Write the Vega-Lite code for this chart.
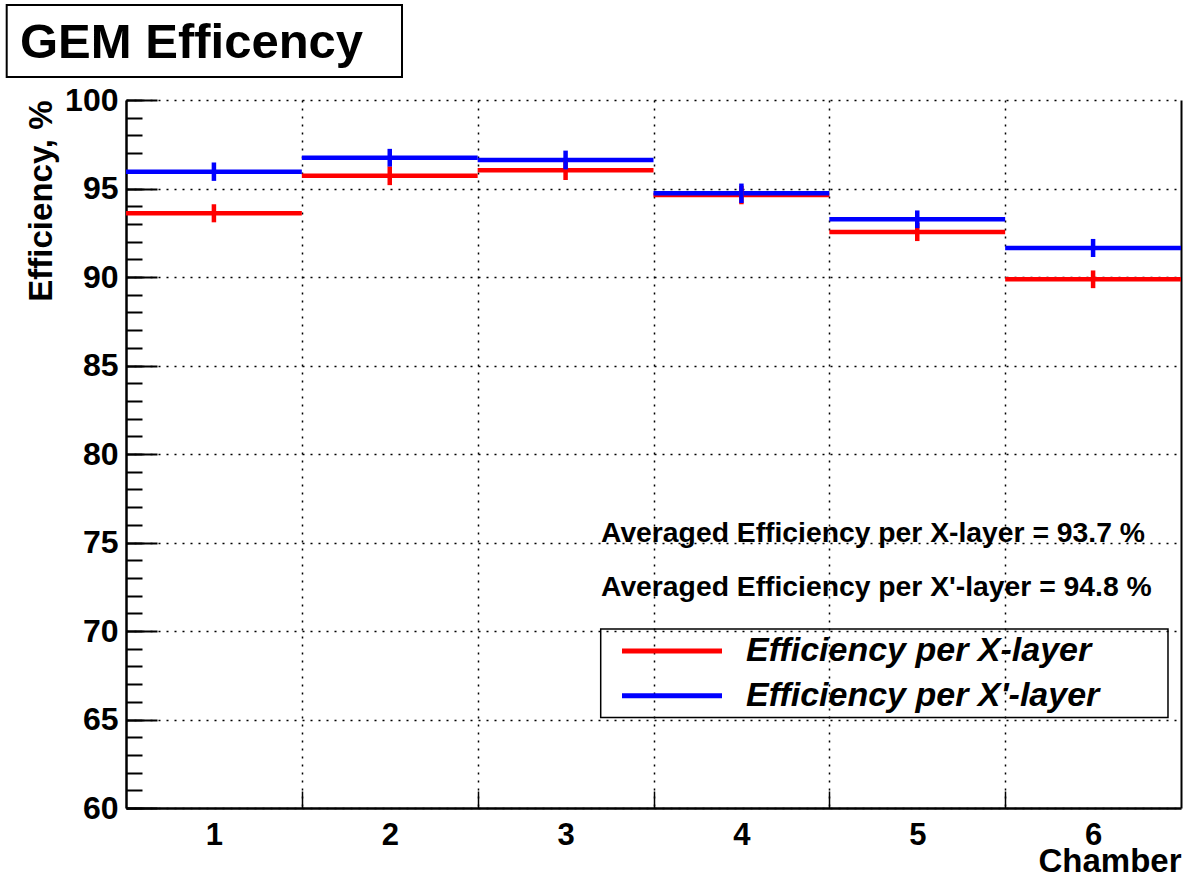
{
  "$schema": "https://vega.github.io/schema/vega-lite/v6.json",
  "width": 1055,
  "height": 708,
  "autosize": {"type": "none"},
  "padding": {"left": 126, "top": 100, "right": 3, "bottom": 74},
  "background": "white",
  "config": {"view": {"stroke": null}, "font": "Liberation Sans"},
  "data": {"values": [
    {"chamber": 1, "layer": "Efficiency per X-layer", "eff": 93.60, "lo": 93.09, "hi": 94.11, "x_lo": 0.5, "x_hi": 1.5},
    {"chamber": 2, "layer": "Efficiency per X-layer", "eff": 95.72, "lo": 95.19, "hi": 96.25, "x_lo": 1.5, "x_hi": 2.5},
    {"chamber": 3, "layer": "Efficiency per X-layer", "eff": 96.03, "lo": 95.48, "hi": 96.58, "x_lo": 2.5, "x_hi": 3.5},
    {"chamber": 4, "layer": "Efficiency per X-layer", "eff": 94.63, "lo": 94.11, "hi": 95.15, "x_lo": 3.5, "x_hi": 4.5},
    {"chamber": 5, "layer": "Efficiency per X-layer", "eff": 92.54, "lo": 92.03, "hi": 93.05, "x_lo": 4.5, "x_hi": 5.5},
    {"chamber": 6, "layer": "Efficiency per X-layer", "eff": 89.87, "lo": 89.37, "hi": 90.37, "x_lo": 5.5, "x_hi": 6.5},
    {"chamber": 1, "layer": "Efficiency per X'-layer", "eff": 95.95, "lo": 95.43, "hi": 96.47, "x_lo": 0.5, "x_hi": 1.5},
    {"chamber": 2, "layer": "Efficiency per X'-layer", "eff": 96.74, "lo": 96.24, "hi": 97.24, "x_lo": 1.5, "x_hi": 2.5},
    {"chamber": 3, "layer": "Efficiency per X'-layer", "eff": 96.61, "lo": 96.08, "hi": 97.14, "x_lo": 2.5, "x_hi": 3.5},
    {"chamber": 4, "layer": "Efficiency per X'-layer", "eff": 94.73, "lo": 94.18, "hi": 95.28, "x_lo": 3.5, "x_hi": 4.5},
    {"chamber": 5, "layer": "Efficiency per X'-layer", "eff": 93.26, "lo": 92.76, "hi": 93.76, "x_lo": 4.5, "x_hi": 5.5},
    {"chamber": 6, "layer": "Efficiency per X'-layer", "eff": 91.64, "lo": 91.13, "hi": 92.15, "x_lo": 5.5, "x_hi": 6.5}
  ]},
  "resolve": {"axis": {"x": "independent", "y": "independent"}},
  "layer": [
    {
      "mark": {"type": "rule", "strokeWidth": 4.5, "strokeCap": "butt"},
      "encoding": {
        "x": {"field": "x_lo", "type": "quantitative",
          "scale": {"domain": [0.5, 6.5], "nice": false, "zero": false},
          "axis": {"orient": "bottom", "values": [1, 2, 3, 4, 5, 6], "format": "d", "ticks": false, "grid": false,
            "domain": true, "domainColor": "black", "domainWidth": 2.5,
            "labelFontSize": 31, "labelFontWeight": "bold", "labelColor": "black", "labelPadding": 12, "labelFlush": false, "labelOverlap": false,
            "title": "Chamber", "titleAnchor": "end", "titleFontSize": 33, "titleFontWeight": "bold", "titleColor": "black", "titlePadding": -5}},
        "x2": {"field": "x_hi"},
        "y": {"field": "eff", "type": "quantitative",
          "scale": {"domain": [60, 100], "nice": false, "zero": false},
          "axis": {"orient": "left", "values": [60, 65, 70, 75, 80, 85, 90, 95, 100], "ticks": false,
            "grid": true, "gridColor": "black", "gridDash": [2, 6], "gridWidth": 1.5, "gridOpacity": 1,
            "domain": true, "domainColor": "black", "domainWidth": 2.5,
            "labelFontSize": 32, "labelFontWeight": "bold", "labelColor": "black", "labelPadding": 8, "labelFlush": false, "labelOverlap": false,
            "title": "Efficiency, %", "titleAnchor": "end", "titleFontSize": 33, "titleFontWeight": "bold", "titleColor": "black", "titlePadding": 6}},
        "color": {"field": "layer", "type": "nominal",
          "scale": {"domain": ["Efficiency per X-layer", "Efficiency per X'-layer"], "range": ["#ff0000", "#0000ff"]},
          "legend": {"orient": "none", "legendX": 529, "legendY": 534, "title": null, "padding": 0,
            "symbolType": "M-5,0H5", "symbolSize": 400, "symbolStrokeWidth": 5, "symbolOpacity": 1,
            "labelFontSize": 34, "labelFontStyle": "italic", "labelFontWeight": "bold", "labelColor": "black",
            "labelOffset": 57, "labelLimit": 600, "rowPadding": 10.7}}
      }
    },
    {
      "mark": {"type": "rule", "strokeWidth": 4.5, "strokeCap": "butt"},
      "encoding": {
        "x": {"field": "chamber", "type": "quantitative",
          "scale": {"domain": [0.5, 6.5], "nice": false, "zero": false},
          "axis": {"orient": "bottom", "values": [1.5, 2.5, 3.5, 4.5, 5.5], "labels": false, "ticks": true, "tickSize": -17, "tickColor": "black", "tickWidth": 1.5,
            "grid": true, "gridColor": "black", "gridDash": [2, 6], "gridWidth": 1.5, "gridOpacity": 1, "domain": false, "title": null}},
        "y": {"field": "lo", "type": "quantitative",
          "scale": {"domain": [60, 100], "nice": false, "zero": false},
          "axis": {"orient": "left", "values": [60, 61, 62, 63, 64, 65, 66, 67, 68, 69, 70, 71, 72, 73, 74, 75, 76, 77, 78, 79, 80, 81, 82, 83, 84, 85, 86, 87, 88, 89, 90, 91, 92, 93, 94, 95, 96, 97, 98, 99, 100],
            "labels": false, "ticks": true, "tickSize": -16, "tickColor": "black", "tickWidth": 2, "grid": false, "domain": false, "title": null}},
        "y2": {"field": "hi"},
        "color": {"field": "layer", "type": "nominal",
          "scale": {"domain": ["Efficiency per X-layer", "Efficiency per X'-layer"], "range": ["#ff0000", "#0000ff"]}}
      }
    },
    {
      "data": {"values": [{"note": "Averaged Efficiency per X-layer = 93.7 %"}]},
      "mark": {"type": "text", "align": "left", "baseline": "alphabetic", "fontSize": 28.3, "fontWeight": "bold", "color": "black"},
      "encoding": {
        "text": {"field": "note"},
        "x": {"datum": 3.2014, "type": "quantitative", "scale": {"domain": [0.5, 6.5], "nice": false, "zero": false}, "axis": null},
        "y": {"datum": 75.03, "type": "quantitative", "scale": {"domain": [60, 100], "nice": false, "zero": false},
          "axis": {"orient": "left", "values": [60, 65, 70, 75, 80, 85, 90, 95, 100], "labels": false, "ticks": true, "tickSize": -31, "tickColor": "black", "tickWidth": 2, "grid": false, "domain": false, "title": null}}
      }
    },
    {
      "data": {"values": [{"note": "Averaged Efficiency per X'-layer = 94.8 %"}]},
      "mark": {"type": "text", "align": "left", "baseline": "alphabetic", "fontSize": 28.3, "fontWeight": "bold", "color": "black"},
      "encoding": {
        "text": {"field": "note"},
        "x": {"datum": 3.2014, "type": "quantitative", "scale": {"domain": [0.5, 6.5], "nice": false, "zero": false}, "axis": null},
        "y": {"datum": 72.0, "type": "quantitative", "scale": {"domain": [60, 100], "nice": false, "zero": false},
          "axis": {"orient": "right", "labels": false, "ticks": false, "grid": false, "domain": true, "domainColor": "black", "domainWidth": 2, "title": null}}
      }
    },
    {
      "data": {"values": [{"note": "GEM Efficency"}]},
      "mark": {"type": "text", "align": "left", "baseline": "alphabetic", "fontSize": 49, "fontWeight": "bold", "color": "black"},
      "encoding": {
        "text": {"field": "note"},
        "x": {"datum": -0.1029, "type": "quantitative", "scale": {"domain": [0.5, 6.5], "nice": false, "zero": false}, "axis": null},
        "y": {"datum": 102.373, "type": "quantitative", "scale": {"domain": [60, 100], "nice": false, "zero": false}, "axis": null}
      }
    },
    {
      "data": {"values": [{"note": "title box"}]},
      "mark": {"type": "rect", "fill": "white", "fillOpacity": 0, "stroke": "black", "strokeWidth": 2},
      "encoding": {
        "x": {"datum": -0.1785, "type": "quantitative", "scale": {"domain": [0.5, 6.5], "nice": false, "zero": false}, "axis": null},
        "x2": {"datum": 2.0697},
        "y": {"datum": 105.367, "type": "quantitative", "scale": {"domain": [60, 100], "nice": false, "zero": false}, "axis": null},
        "y2": {"datum": 101.3}
      }
    },
    {
      "data": {"values": [{"note": "legend box"}]},
      "mark": {"type": "rect", "fill": "white", "fillOpacity": 0, "stroke": "black", "strokeWidth": 1.5},
      "encoding": {
        "x": {"datum": 3.1997, "type": "quantitative", "scale": {"domain": [0.5, 6.5], "nice": false, "zero": false}, "axis": null},
        "x2": {"datum": 6.426},
        "y": {"datum": 70.11, "type": "quantitative", "scale": {"domain": [60, 100], "nice": false, "zero": false}, "axis": null},
        "y2": {"datum": 65.12}
      }
    }
  ]
}
